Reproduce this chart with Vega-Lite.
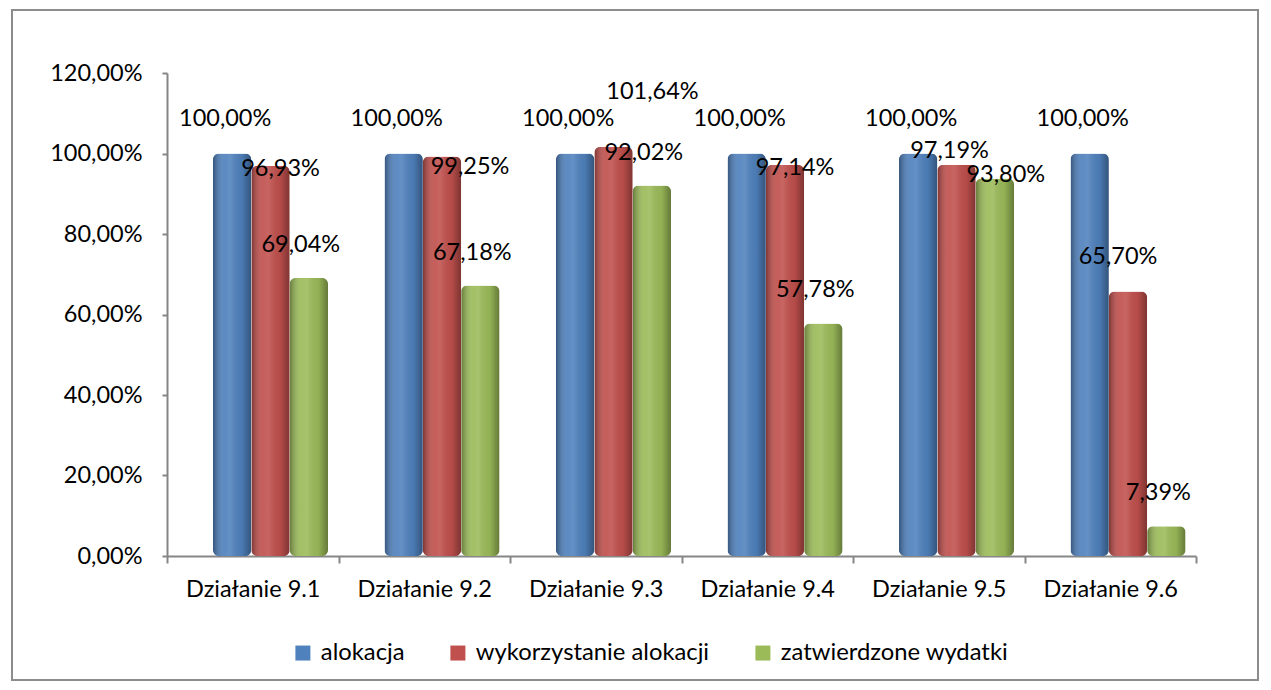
{
  "$schema": "https://vega.github.io/schema/vega-lite/v6.json",
  "width": 1246,
  "height": 670,
  "autosize": {"type": "none"},
  "padding": {"left": 12, "top": 10, "right": 13, "bottom": 10},
  "background": "white",
  "config": {
    "locale": {"number": {"decimal": ",", "thousands": " ", "grouping": [3], "currency": ["", " zł"]}},
    "view": {"stroke": "#8c8c8c", "strokeWidth": 2},
    "font": "Lato",
    "axis": {
      "domainColor": "#868686", "domainWidth": 2,
      "tickColor": "#868686", "tickWidth": 2,
      "labelColor": "#000000", "labelFont": "Lato", "labelFontSize": 23.5,
      "grid": false, "title": null
    },
    "legend": {"labelFont": "Lato", "labelFontSize": 23.8, "labelColor": "#000000", "labelLimit": 0},
    "text": {"font": "Lato", "fontSize": 23.5, "color": "#000000", "baseline": "middle"}
  },
  "data": {
    "values": [
      {"cat": "Działanie 9.1", "series": "alokacja", "value": 1.0},
      {"cat": "Działanie 9.1", "series": "wykorzystanie alokacji", "value": 0.9693},
      {"cat": "Działanie 9.1", "series": "zatwierdzone wydatki", "value": 0.6904},
      {"cat": "Działanie 9.2", "series": "alokacja", "value": 1.0},
      {"cat": "Działanie 9.2", "series": "wykorzystanie alokacji", "value": 0.9925},
      {"cat": "Działanie 9.2", "series": "zatwierdzone wydatki", "value": 0.6718},
      {"cat": "Działanie 9.3", "series": "alokacja", "value": 1.0},
      {"cat": "Działanie 9.3", "series": "wykorzystanie alokacji", "value": 1.0164},
      {"cat": "Działanie 9.3", "series": "zatwierdzone wydatki", "value": 0.9202},
      {"cat": "Działanie 9.4", "series": "alokacja", "value": 1.0},
      {"cat": "Działanie 9.4", "series": "wykorzystanie alokacji", "value": 0.9714},
      {"cat": "Działanie 9.4", "series": "zatwierdzone wydatki", "value": 0.5778},
      {"cat": "Działanie 9.5", "series": "alokacja", "value": 1.0},
      {"cat": "Działanie 9.5", "series": "wykorzystanie alokacji", "value": 0.9719},
      {"cat": "Działanie 9.5", "series": "zatwierdzone wydatki", "value": 0.938},
      {"cat": "Działanie 9.6", "series": "alokacja", "value": 1.0},
      {"cat": "Działanie 9.6", "series": "wykorzystanie alokacji", "value": 0.657},
      {"cat": "Działanie 9.6", "series": "zatwierdzone wydatki", "value": 0.0739}
    ]
  },
  "encoding": {
    "x": {
      "field": "cat", "type": "nominal", "sort": null,
      "scale": {"range": [155, 1184], "paddingInner": 0, "paddingOuter": 0},
      "axis": {"offset": -124, "tickBand": "extent", "tickSize": 7, "labelPadding": 14, "labelAngle": 0}
    },
    "xOffset": {
      "field": "series", "type": "nominal",
      "sort": ["alokacja", "wykorzystanie alokacji", "zatwierdzone wydatki"],
      "scale": {"range": [46, 161], "paddingInner": 0, "paddingOuter": 0}
    },
    "y": {
      "field": "value", "type": "quantitative",
      "scale": {"domain": [0, 1.2], "range": [546, 63], "nice": false},
      "axis": {"offset": -155, "values": [0, 0.2, 0.4, 0.6, 0.8, 1.0, 1.2], "format": ".2%", "tickSize": 5, "labelPadding": 20}
    }
  },
  "layer": [
    {
      "mark": {"type": "bar", "cornerRadius": 6},
      "encoding": {
        "color": {
          "field": "series", "type": "nominal",
          "sort": ["alokacja", "wykorzystanie alokacji", "zatwierdzone wydatki"],
          "scale": {"domain": ["alokacja", "wykorzystanie alokacji", "zatwierdzone wydatki"], "range": ["#4F81BD", "#C0504D", "#9BBB59"]},
          "legend": {
            "title": null, "orient": "none", "legendX": 279, "legendY": 631,
            "direction": "horizontal", "columns": 3, "symbolType": "square",
            "symbolSize": 225, "symbolStrokeWidth": 0, "columnPadding": 41, "labelOffset": 6
          }
        }
      }
    },
    {
      "mark": {
        "type": "bar", "cornerRadius": 6,
        "fill": {
          "gradient": "linear", "x1": 0, "x2": 1, "y1": 0, "y2": 0,
          "stops": [
            {"offset": 0, "color": "rgba(0,0,0,0.35)"},
            {"offset": 0.3, "color": "rgba(255,255,255,0.08)"},
            {"offset": 0.45, "color": "rgba(255,255,255,0.12)"},
            {"offset": 0.75, "color": "rgba(0,0,0,0.05)"},
            {"offset": 1, "color": "rgba(0,0,0,0.35)"}
          ]
        }
      },
      "encoding": {}
    },
    {
      "transform": [{"filter": "datum.series === 'alokacja'"}],
      "mark": {"type": "text", "dx": -7, "dy": -35},
      "encoding": {"text": {"field": "value", "type": "quantitative", "format": ".2%"}}
    },
    {
      "transform": [{"filter": "datum.series === 'wykorzystanie alokacji' && (datum.cat === 'Działanie 9.1' || datum.cat === 'Działanie 9.4')"}],
      "mark": {"type": "text", "dx": 10, "dy": 3},
      "encoding": {"text": {"field": "value", "type": "quantitative", "format": ".2%"}}
    },
    {
      "transform": [{"filter": "datum.series === 'wykorzystanie alokacji' && datum.cat === 'Działanie 9.2'"}],
      "mark": {"type": "text", "dx": 28, "dy": 10},
      "encoding": {"text": {"field": "value", "type": "quantitative", "format": ".2%"}}
    },
    {
      "transform": [{"filter": "datum.series === 'wykorzystanie alokacji' && datum.cat === 'Działanie 9.3'"}],
      "mark": {"type": "text", "dx": 39, "dy": -55},
      "encoding": {"text": {"field": "value", "type": "quantitative", "format": ".2%"}}
    },
    {
      "transform": [{"filter": "datum.series === 'wykorzystanie alokacji' && datum.cat === 'Działanie 9.5'"}],
      "mark": {"type": "text", "dx": -7, "dy": -14},
      "encoding": {"text": {"field": "value", "type": "quantitative", "format": ".2%"}}
    },
    {
      "transform": [{"filter": "datum.series === 'wykorzystanie alokacji' && datum.cat === 'Działanie 9.6'"}],
      "mark": {"type": "text", "dx": -10, "dy": -35},
      "encoding": {"text": {"field": "value", "type": "quantitative", "format": ".2%"}}
    },
    {
      "transform": [{"filter": "datum.series === 'zatwierdzone wydatki' && datum.cat !== 'Działanie 9.5'"}],
      "mark": {"type": "text", "dx": -8, "dy": -33},
      "encoding": {"text": {"field": "value", "type": "quantitative", "format": ".2%"}}
    },
    {
      "transform": [{"filter": "datum.series === 'zatwierdzone wydatki' && datum.cat === 'Działanie 9.5'"}],
      "mark": {"type": "text", "dx": 11, "dy": -3},
      "encoding": {"text": {"field": "value", "type": "quantitative", "format": ".2%"}}
    }
  ]
}
